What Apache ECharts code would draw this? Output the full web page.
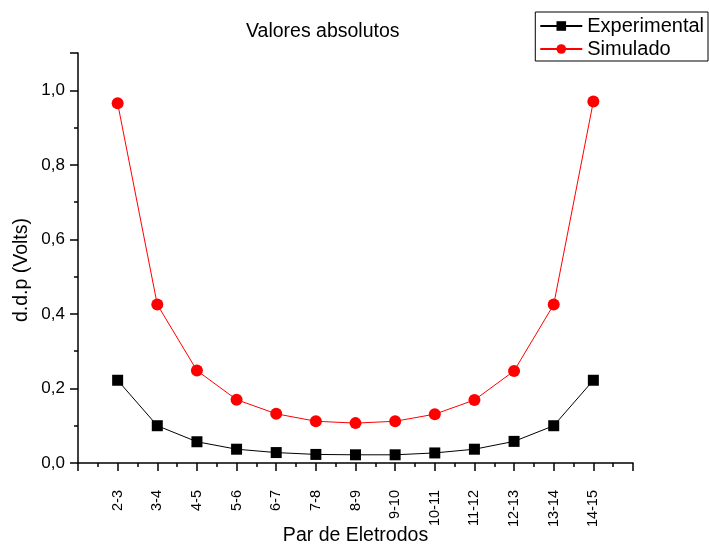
<!DOCTYPE html>
<html><head><meta charset="utf-8">
<script src="https://cdn.jsdelivr.net/npm/echarts@6/dist/echarts.min.js"></script>
<style>html,body{margin:0;padding:0;background:#fff}#c{width:709px;height:546px}</style>
</head><body><div id="c"></div>
<script>
const categories = ['2-3','3-4','4-5','5-6','6-7','7-8','8-9','9-10','10-11','11-12','12-13','13-14','14-15'];
const experimental = [0.222,0.100,0.057,0.037,0.028,0.023,0.022,0.022,0.027,0.037,0.058,0.100,0.222];
const simulado = [0.965,0.425,0.248,0.170,0.132,0.112,0.107,0.112,0.131,0.169,0.247,0.425,0.970];
const yTicks = [0,0.2,0.4,0.6,0.8,1.0];

const toXY = arr => arr.map((v,i)=>[i+1,v]);
const F = 'Liberation Sans, Arial, sans-serif';
const chart = echarts.init(document.getElementById('c'));
chart.setOption({
  animation:false,
  backgroundColor:'#fff',
  title:{text:'Valores absolutos',left:241,top:17,textStyle:{fontFamily:F,fontSize:19.5,fontWeight:'normal',color:'#000'}},
  legend:{orient:'vertical',right:1,top:12,padding:[4,4,2,4],itemGap:3,itemWidth:42,itemHeight:12,
    borderColor:'#000',borderWidth:1,borderRadius:0,
    textStyle:{fontFamily:F,fontSize:20,color:'#000',padding:[0,0,0,0]},
    data:['Experimental','Simulado']},
  grid:{left:78,right:76,top:53,bottom:83,outerBoundsMode:'none',containLabel:false},
  xAxis:{type:'value',min:0,max:14,interval:1,
    name:'Par de Eletrodos',nameLocation:'middle',nameGap:63,nameMoveOverlap:false,
    nameTextStyle:{fontFamily:F,fontSize:19.5,color:'#000'},
    axisLine:{show:true,onZero:false,lineStyle:{color:'#000',width:1.5}},
    axisTick:{show:true,inside:false,length:8,lineStyle:{color:'#000',width:1.5}},
    minorTick:{show:true,splitNumber:2,length:4,lineStyle:{color:'#000',width:1.5}},
    splitLine:{show:false},
    axisLabel:{rotate:90,margin:27,fontFamily:F,fontSize:14.5,color:'#000',
      formatter:v=>(v>=1&&v<=categories.length)?categories[v-1]:''}},
  yAxis:{type:'value',min:0,max:1.1,interval:0.2,
    name:'d.d.p (Volts)',nameLocation:'middle',nameGap:46,nameMoveOverlap:false,
    nameTextStyle:{fontFamily:F,fontSize:19.5,color:'#000',padding:[0,0,0,-24]},
    axisLine:{show:true,lineStyle:{color:'#000',width:1.5}},
    axisTick:{show:true,length:8,lineStyle:{color:'#000',width:1.5}},
    minorTick:{show:true,splitNumber:2,length:4,lineStyle:{color:'#000',width:1.5}},
    splitLine:{show:false},
    axisLabel:{margin:13,fontFamily:F,fontSize:17,color:'#000',
      formatter:v=>{const t=yTicks.find(x=>Math.abs(x-v)<1e-6);return t===undefined?'':t.toFixed(1).replace('.',',');}}},
  series:[
    {name:'Experimental',type:'line',data:toXY(experimental),symbol:'rect',symbolSize:11,
      itemStyle:{color:'#000'},lineStyle:{color:'#000',width:1}},
    {name:'Simulado',type:'line',data:toXY(simulado),symbol:'circle',symbolSize:12,
      itemStyle:{color:'#ff0000'},lineStyle:{color:'#ff0000',width:1}}
  ]
});
</script></body></html>
